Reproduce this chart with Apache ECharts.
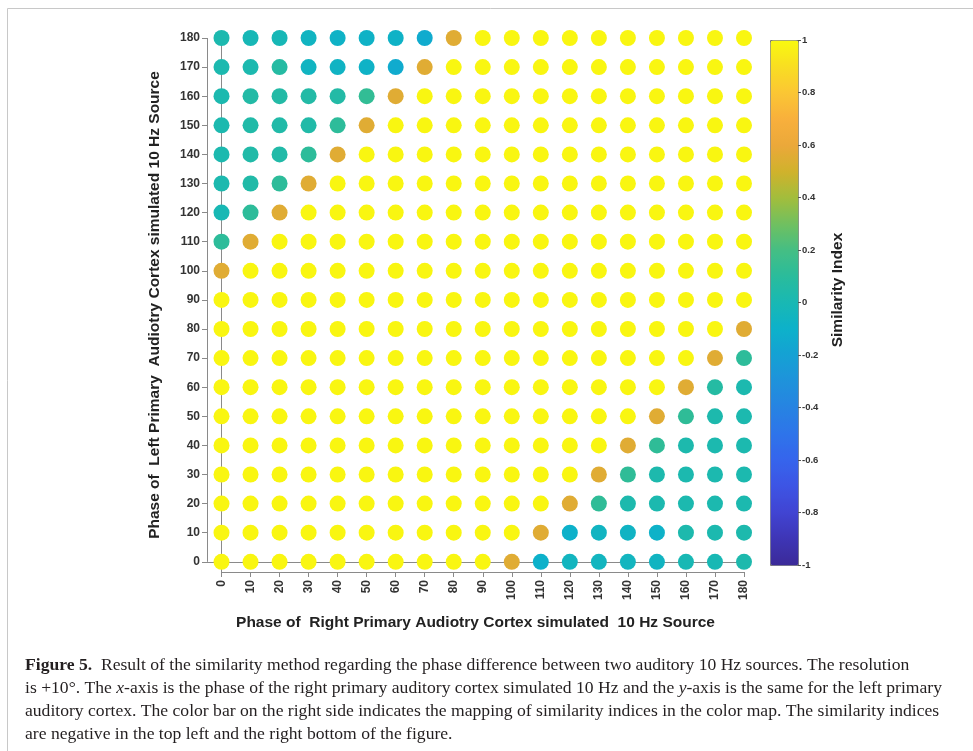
<!DOCTYPE html>
<html>
<head>
<meta charset="utf-8">
<script src="https://cdn.jsdelivr.net/npm/echarts@6/dist/echarts.min.js"></script>
<style>
  html, body { margin: 0; padding: 0; background: #ffffff; }
  #chart { width: 973px; height: 751px; }
</style>
</head>
<body>
<div id="chart"></div>
<script>
// Phase grid (degrees) shared by both axes
const phases = [0, 10, 20, 30, 40, 50, 60, 70, 80, 90, 100, 110, 120, 130, 140, 150, 160, 170, 180];

// Similarity index per left-source phase (one row per y value), ordered by right-source phase 0..180
const simY180 = [0.02, -0.01, -0.01, -0.06, -0.08, -0.08, -0.08, -0.14, 0.56, 0.99, 0.99, 0.99, 0.99, 0.99, 0.99, 0.99, 0.99, 0.99, 0.99];
const simY170 = [0.02, 0.02, 0.07, -0.06, -0.07, -0.08, -0.14, 0.56, 0.99, 0.99, 0.99, 0.99, 0.99, 0.99, 0.99, 0.99, 0.99, 0.99, 0.99];
const simY160 = [0.02, 0.06, 0.06, 0.06, 0.06, 0.13, 0.56, 0.99, 0.99, 0.99, 0.99, 0.99, 0.99, 0.99, 0.99, 0.99, 0.99, 0.99, 0.99];
const simY150 = [0.02, 0.05, 0.05, 0.05, 0.11, 0.56, 0.99, 0.99, 0.99, 0.99, 0.99, 0.99, 0.99, 0.99, 0.99, 0.99, 0.99, 0.99, 0.99];
const simY140 = [0.02, 0.05, 0.05, 0.11, 0.56, 0.99, 0.99, 0.99, 0.99, 0.99, 0.99, 0.99, 0.99, 0.99, 0.99, 0.99, 0.99, 0.99, 0.99];
const simY130 = [0.02, 0.05, 0.11, 0.56, 0.99, 0.99, 0.99, 0.99, 0.99, 0.99, 0.99, 0.99, 0.99, 0.99, 0.99, 0.99, 0.99, 0.99, 0.99];
const simY120 = [0.00, 0.11, 0.56, 0.99, 0.99, 0.99, 0.99, 0.99, 0.99, 0.99, 0.99, 0.99, 0.99, 0.99, 0.99, 0.99, 0.99, 0.99, 0.99];
const simY110 = [0.11, 0.56, 0.99, 0.99, 0.99, 0.99, 0.99, 0.99, 0.99, 0.99, 0.99, 0.99, 0.99, 0.99, 0.99, 0.99, 0.99, 0.99, 0.99];
const simY100 = [0.56, 0.99, 0.99, 0.99, 0.99, 0.99, 0.99, 0.99, 0.99, 0.99, 0.99, 0.99, 0.99, 0.99, 0.99, 0.99, 0.99, 0.99, 0.99];
const simY90  = [0.99, 0.99, 0.99, 0.99, 0.99, 0.99, 0.99, 0.99, 0.99, 0.99, 0.99, 0.99, 0.99, 0.99, 0.99, 0.99, 0.99, 0.99, 0.99];
const simY80  = [0.99, 0.99, 0.99, 0.99, 0.99, 0.99, 0.99, 0.99, 0.99, 0.99, 0.99, 0.99, 0.99, 0.99, 0.99, 0.99, 0.99, 0.99, 0.56];
const simY70  = [0.99, 0.99, 0.99, 0.99, 0.99, 0.99, 0.99, 0.99, 0.99, 0.99, 0.99, 0.99, 0.99, 0.99, 0.99, 0.99, 0.99, 0.56, 0.11];
const simY60  = [0.99, 0.99, 0.99, 0.99, 0.99, 0.99, 0.99, 0.99, 0.99, 0.99, 0.99, 0.99, 0.99, 0.99, 0.99, 0.99, 0.56, 0.07, 0.02];
const simY50  = [0.99, 0.99, 0.99, 0.99, 0.99, 0.99, 0.99, 0.99, 0.99, 0.99, 0.99, 0.99, 0.99, 0.99, 0.99, 0.56, 0.12, 0.03, 0.02];
const simY40  = [0.99, 0.99, 0.99, 0.99, 0.99, 0.99, 0.99, 0.99, 0.99, 0.99, 0.99, 0.99, 0.99, 0.99, 0.56, 0.12, 0.03, 0.02, 0.02];
const simY30  = [0.99, 0.99, 0.99, 0.99, 0.99, 0.99, 0.99, 0.99, 0.99, 0.99, 0.99, 0.99, 0.99, 0.56, 0.12, 0.03, 0.02, 0.02, 0.02];
const simY20  = [0.99, 0.99, 0.99, 0.99, 0.99, 0.99, 0.99, 0.99, 0.99, 0.99, 0.99, 0.99, 0.56, 0.12, 0.03, 0.02, 0.02, 0.02, 0.02];
const simY10  = [0.99, 0.99, 0.99, 0.99, 0.99, 0.99, 0.99, 0.99, 0.99, 0.99, 0.99, 0.56, -0.10, -0.06, -0.07, -0.09, 0.03, 0.02, 0.03];
const simY0   = [0.99, 0.99, 0.99, 0.99, 0.99, 0.99, 0.99, 0.99, 0.99, 0.99, 0.56, -0.10, -0.05, -0.05, -0.05, -0.06, 0.00, 0.00, 0.03];

// Colour bar tick values
const colorbarTicks = [-1, -0.8, -0.6, -0.4, -0.2, 0, 0.2, 0.4, 0.6, 0.8, 1];

// Colour map stops, evenly spaced from -1 to 1 (parula-like)
const colorStops = [
  '#3b2a98', '#3e35b5', '#4144d2', '#3d54e4', '#3664ec', '#2e74ea', '#2783e2',
  '#1f92db', '#15a1d4', '#0db1ca', '#18b8b4', '#2abc9c', '#44be84', '#70c060',
  '#a2bd3c', '#d0b22c', '#eba83a', '#f8b03c', '#fbc634', '#f9de22', '#f9f90f'
];

const rowsByPhase = [simY0, simY10, simY20, simY30, simY40, simY50, simY60, simY70, simY80, simY90,
  simY100, simY110, simY120, simY130, simY140, simY150, simY160, simY170, simY180];

const points = [];
rowsByPhase.forEach((row, yi) => {
  row.forEach((v, xi) => points.push([phases[xi], phases[yi], v]));
});

const axisFont = 'Liberation Sans, Arial, sans-serif';
const serifFont = 'Liberation Serif, Times New Roman, serif';
const axisGray = '#8a8a8a';
const labelColor = '#333333';

const captionSize = 17;
const capRich = {
  b: { fontFamily: serifFont, fontSize: captionSize, fontWeight: 'bold', fill: '#231f20' },
  i: { fontFamily: serifFont, fontSize: captionSize, fontStyle: 'italic', fill: '#231f20' }
};
const captionLines = [
  '{b|Figure 5.}  Result of the similarity method regarding the phase difference between two auditory 10 Hz sources. The resolution',
  'is +10°. The {i|x}-axis is the phase of the right primary auditory cortex simulated 10 Hz and the {i|y}-axis is the same for the left primary',
  'auditory cortex. The color bar on the right side indicates the mapping of similarity indices in the color map. The similarity indices',
  'are negative in the top left and the right bottom of the figure.'
];
const captionTop = 666;
const captionStep = 23;

const chart = echarts.init(document.getElementById('chart'), null, { renderer: 'canvas' });

chart.setOption({
  animation: false,
  backgroundColor: '#ffffff',
  grid: [
    { left: 207, right: 229, top: 38, bottom: 179 },
    { left: 770, top: 40, width: 28, height: 525 }
  ],
  xAxis: [
    {
      type: 'value', gridIndex: 0, min: -5, max: 180,
      name: 'Phase of  Right Primary Audiotry Cortex simulated  10 Hz Source',
      nameLocation: 'middle', nameGap: 43,
      nameTextStyle: { fontFamily: axisFont, fontWeight: 'bold', fontSize: 15.5, color: '#222' },
      axisLine: { show: false, onZero: false },
      axisTick: { show: true, inside: false, length: 5, customValues: phases, lineStyle: { color: axisGray } },
      axisLabel: { customValues: phases, rotate: 90, margin: 8, fontFamily: axisFont, fontWeight: 'bold', fontSize: 12, color: labelColor },
      splitLine: { show: false }
    },
    { type: 'value', gridIndex: 1, show: false, min: 0, max: 1, axisLine: { onZero: false } }
  ],
  yAxis: [
    {
      type: 'value', gridIndex: 0, min: -3.5, max: 180,
      name: 'Phase of  Left Primary  Audiotry Cortex simulated 10 Hz Source',
      nameLocation: 'middle', nameGap: 44, nameRotate: 90,
      nameTextStyle: { fontFamily: axisFont, fontWeight: 'bold', fontSize: 15.5, color: '#222' },
      axisLine: { show: false, onZero: false },
      axisTick: { show: true, inside: false, length: 5, customValues: phases, lineStyle: { color: axisGray } },
      axisLabel: { customValues: phases, margin: 7, fontFamily: axisFont, fontWeight: 'bold', fontSize: 12, color: labelColor },
      splitLine: { show: false }
    },
    {
      type: 'value', gridIndex: 1, position: 'right', min: -1, max: 1, interval: 0.2,
      z: 10,
      axisLine: { show: false, onZero: false },
      axisTick: { show: true, inside: false, length: 3, customValues: colorbarTicks, lineStyle: { color: '#555' } },
      axisLabel: { customValues: colorbarTicks, margin: 4, fontFamily: axisFont, fontWeight: 'bold', fontSize: 9.5, color: labelColor },
      splitLine: { show: false }
    }
  ],
  visualMap: {
    type: 'continuous',
    min: -1, max: 1,
    dimension: 2,
    seriesIndex: 0,
    calculable: false,
    hoverLink: false,
    left: 770, top: 40,
    itemWidth: 28, itemHeight: 525,
    padding: 0,
    borderColor: '#777777', borderWidth: 1,
    text: null,
    inRange: { color: colorStops }
  },
  series: [
    {
      type: 'scatter',
      xAxisIndex: 0, yAxisIndex: 0,
      z: 5,
      clip: false,
      symbol: 'circle',
      symbolSize: 16,
      data: points,
      itemStyle: { opacity: 1 },
      emphasis: { disabled: true }
    },
    {
      type: 'line',
      xAxisIndex: 0, yAxisIndex: 0,
      z: 1,
      data: [],
      markLine: {
        silent: true,
        symbol: ['none', 'none'],
        label: { show: false },
        lineStyle: { color: axisGray, width: 1, type: 'solid' },
        data: [
          [{ coord: [-5, 0] }, { coord: [-5, 180] }],
          [{ coord: [0, -3.5] }, { coord: [180, -3.5] }],
          [{ coord: [-5, 0] }, { coord: [180, 0] }],
          [{ coord: [0, -3.5] }, { coord: [0, 180] }]
        ]
      }
    }
  ],
  graphic: [
    {
      type: 'rect', silent: true, z: -10,
      shape: { x: 7.5, y: 8.5, width: 1000, height: 800 },
      style: { fill: 'none', stroke: '#c8c8c8', lineWidth: 1 }
    },
    {
      type: 'text', silent: true,
      x: 838, y: 290, rotation: Math.PI / 2,
      style: {
        text: 'Similarity Index', fontFamily: axisFont, fontWeight: 'bold', fontSize: 15.5,
        fill: '#222', align: 'center', verticalAlign: 'middle'
      }
    }
  ].concat(captionLines.map((line, k) => ({
    type: 'text', silent: true,
    x: 25, y: captionTop + k * captionStep,
    scaleX: 1.035,
    style: {
      text: line, rich: capRich,
      fontFamily: serifFont, fontSize: captionSize, fill: '#231f20',
      align: 'left', verticalAlign: 'middle'
    }
  })))
});
</script>
</body>
</html>
